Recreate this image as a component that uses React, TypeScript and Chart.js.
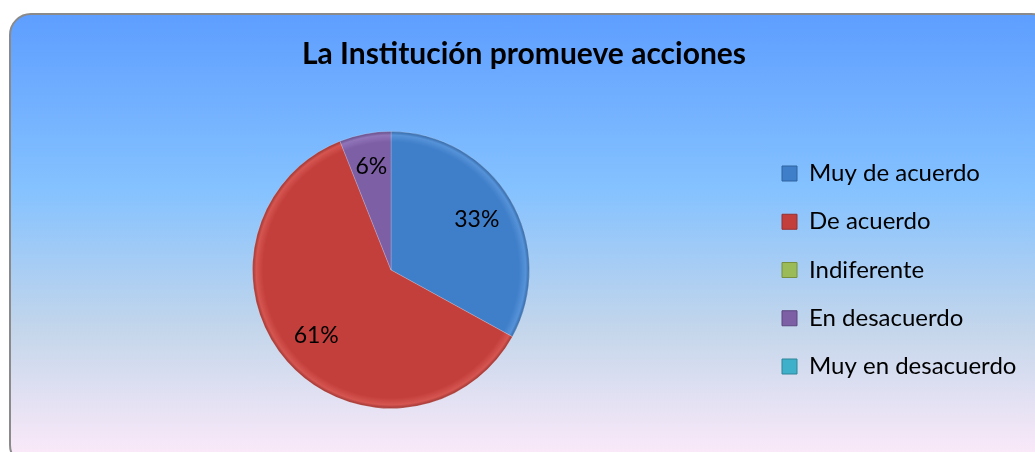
import React, { useEffect, useRef } from "react";
import { Chart, registerables } from "chart.js";

Chart.register(...registerables);

const categories = ["Muy de acuerdo", "De acuerdo", "Indiferente", "En desacuerdo", "Muy en desacuerdo"];
const percentages = [33, 61, 0, 6, 0];
const sliceColors = ["#3f7ec9", "#c33f3c", "#9bbb59", "#7d5fa6", "#3fb0c9"];
const rimColors = ["#5592d8", "#d55551", "#b0cd70", "#9074b8", "#58c2d8"];
const edgeColors = ["#30629e", "#96312e", "#76903f", "#5d4680", "#2f8499"];
const chartTitle = "La Institución promueve acciones";

const FONT = "Lato, 'Open Sans', sans-serif";

const pieLabels = {
  id: "pieLabels",
  afterDatasetsDraw(chart: any) {
    const ctx = chart.ctx;
    const meta = chart.getDatasetMeta(0);
    ctx.save();
    ctx.font = `23px ${FONT}`;
    ctx.fillStyle = "#000";
    ctx.textAlign = "center";
    ctx.textBaseline = "middle";
    meta.data.forEach((arc: any, i: number) => {
      const v = percentages[i];
      if (!v) return;
      const p = arc.getProps(["x", "y", "startAngle", "endAngle", "outerRadius"], true);
      const mid = (p.startAngle + p.endAngle) / 2;
      const r = p.outerRadius * (v < 10 ? 0.76 : 0.72);
      ctx.fillText(`${v}%`, p.x + Math.cos(mid) * r, p.y + Math.sin(mid) * r);
    });
    ctx.restore();
  },
};

export default function App() {
  const ref = useRef<HTMLCanvasElement | null>(null);

  useEffect(() => {
    if (!ref.current) return;
    const chart = new Chart(ref.current, {
      type: "pie",
      data: {
        labels: categories,
        datasets: [
          {
            data: percentages,
            backgroundColor: (c: any) => {
              const i = c.dataIndex;
              const ch = c.chart;
              const area = ch.chartArea;
              if (!area) return sliceColors[i];
              const cx = (area.left + area.right) / 2;
              const cy = (area.top + area.bottom) / 2;
              const r = Math.min(area.right - area.left, area.bottom - area.top) / 2;
              const g = ch.ctx.createRadialGradient(cx, cy, 0, cx, cy, r);
              g.addColorStop(0, sliceColors[i]);
              g.addColorStop(0.92, sliceColors[i]);
              g.addColorStop(0.97, rimColors[i]);
              g.addColorStop(1, edgeColors[i]);
              return g;
            },
            borderColor: "rgba(255,255,255,0.2)",
            borderWidth: 1,
            hoverOffset: 0,
          },
        ],
      },
      options: {
        responsive: false,
        animation: false,
        layout: { padding: { left: 15.25, right: 15.25, top: 0, bottom: 43 } },
        plugins: {
          title: {
            display: true,
            text: chartTitle,
            color: "#000",
            font: { family: FONT, size: 30, weight: "bold" },
            padding: { top: 36, bottom: 59 },
          },
          legend: {
            display: true,
            position: "right",
            fullSize: false,
            maxWidth: 266,
            labels: {
              boxWidth: 15,
              boxHeight: 15,
              padding: 24.25,
              color: "#000",
              font: { family: FONT, size: 24 },
              generateLabels: () =>
                categories.map((t, i) => ({
                  text: t,
                  fillStyle: sliceColors[i],
                  strokeStyle: edgeColors[i],
                  lineWidth: 1,
                  hidden: false,
                  index: i,
                  datasetIndex: 0,
                })),
            },
          },
          tooltip: { enabled: false },
        },
      },
      plugins: [pieLabels],
    } as any);
    return () => chart.destroy();
  }, []);

  return (
    <div
      style={{
        position: "fixed",
        left: 0,
        top: 0,
        width: 1035,
        height: 452,
        overflow: "hidden",
        background: "#fff",
      }}
    >
      <div
        style={{
          position: "absolute",
          left: 9,
          top: 13,
          width: 1040,
          height: 450,
          border: "2px solid #8a8a8a",
          borderRadius: 22,
          background: "linear-gradient(180deg, #5e9eff 0%, #85c2ff 39%, #c4d6eb 70%, #ffebfa 100%)",
        }}
      />
      <canvas
        ref={ref}
        width={1030}
        height={452}
        style={{ position: "absolute", left: 9, top: 0, width: 1030, height: 452 }}
      />
    </div>
  );
}
